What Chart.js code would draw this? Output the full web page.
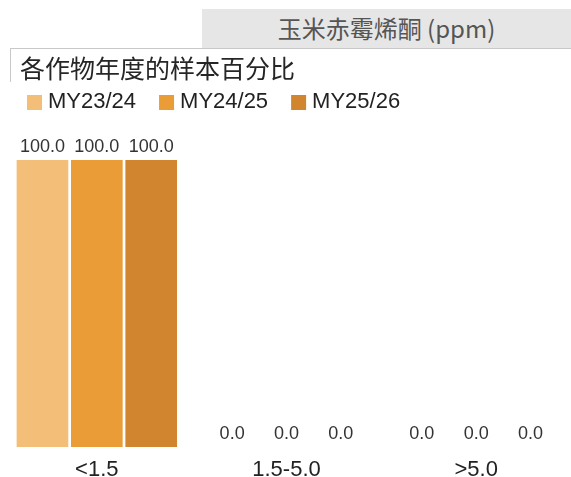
<!DOCTYPE html>
<html>
<head>
<meta charset="utf-8">
<script src="https://cdn.jsdelivr.net/npm/chart.js@4"></script>
<style>
    html, body { margin: 0; padding: 0; background: #fff; }
    #wrap { position: relative; width: 571px; height: 477px; overflow: hidden; }
    #header {
        position: absolute; left: 202px; top: 9px; width: 369px; height: 39px;
        background: #e6e6e6; color: #555;
        font: 24px "Noto Sans CJK SC", "Liberation Sans", sans-serif;
        line-height: 38px; text-align: center;
    }
    #subtitle {
        position: absolute; left: 10px; top: 48px; width: 561px; height: 34px;
        border-left: 1px solid #c8c8c8; border-top: 1px solid #c8c8c8;
        color: #262626; font: 25px "Noto Sans CJK SC", sans-serif;
        line-height: 36px; padding-left: 9px; box-sizing: border-box;
    }
    canvas { position: absolute; left: 0; top: 0; }
</style>
</head>
<body>
<div id="wrap">
    <canvas id="chart" width="571" height="477"></canvas>
    <div id="header">玉米赤霉烯酮 (ppm)</div>
    <div id="subtitle">各作物年度的样本百分比</div>
</div>
<script>
const categories = ['<1.5', '1.5-5.0', '>5.0'];
const seriesNames = ['MY23/24', 'MY24/25', 'MY25/26'];
const my2324 = [100.0, 0.0, 0.0];
const my2425 = [100.0, 0.0, 0.0];
const my2526 = [100.0, 0.0, 0.0];
const colors = ['#f2be78', '#ea9c36', '#d1852e'];

const latin = '"Liberation Sans", Arial, sans-serif';

// value labels over each bar
const valueLabels = {
    id: 'valueLabels',
    afterDatasetsDraw(chart) {
        const ctx = chart.ctx;
        ctx.save();
        ctx.font = '18px "Liberation Sans Narrow", ' + latin;
        ctx.fillStyle = '#333';
        ctx.textAlign = 'center';
        ctx.textBaseline = 'alphabetic';
        chart.data.datasets.forEach((ds, i) => {
            chart.getDatasetMeta(i).data.forEach((bar, j) => {
                ctx.fillText(ds.data[j].toFixed(1), bar.x, bar.y - 8);
            });
        });
        ctx.restore();
    }
};

// legend row drawn from the datasets
const rowLegend = {
    id: 'rowLegend',
    afterDraw(chart) {
        const ctx = chart.ctx;
        ctx.save();
        ctx.font = '22px ' + latin;
        ctx.textBaseline = 'middle';
        let x = 27;
        chart.data.datasets.forEach(ds => {
            ctx.fillStyle = ds.backgroundColor;
            ctx.fillRect(x, 95, 15, 15);
            ctx.fillStyle = '#222';
            ctx.fillText(ds.label, x + 21, 102);
            x += 21 + ctx.measureText(ds.label).width + 23;
        });
        ctx.restore();
    }
};

new Chart(document.getElementById('chart'), {
    type: 'bar',
    data: {
        labels: categories,
        datasets: [
            { label: seriesNames[0], data: my2324, backgroundColor: colors[0] },
            { label: seriesNames[1], data: my2425, backgroundColor: colors[1] },
            { label: seriesNames[2], data: my2526, backgroundColor: colors[2] }
        ]
    },
    options: {
        responsive: false,
        animation: false,
        layout: { padding: { top: 160, left: 2, right: 0, bottom: 0 } },
        datasets: {
            bar: { categoryPercentage: 0.86, barPercentage: 0.95 }
        },
        plugins: {
            legend: { display: false },
            tooltip: { enabled: false }
        },
        scales: {
            x: {
                grid: { display: false },
                border: { display: false },
                afterFit(scale) { scale.height = 30; },
                ticks: {
                    color: '#222',
                    padding: 4,
                    font: { family: latin, size: 22, lineHeight: 1 }
                }
            },
            y: {
                display: false,
                min: 0,
                max: 100
            }
        }
    },
    plugins: [valueLabels, rowLegend]
});
</script>
</body>
</html>
